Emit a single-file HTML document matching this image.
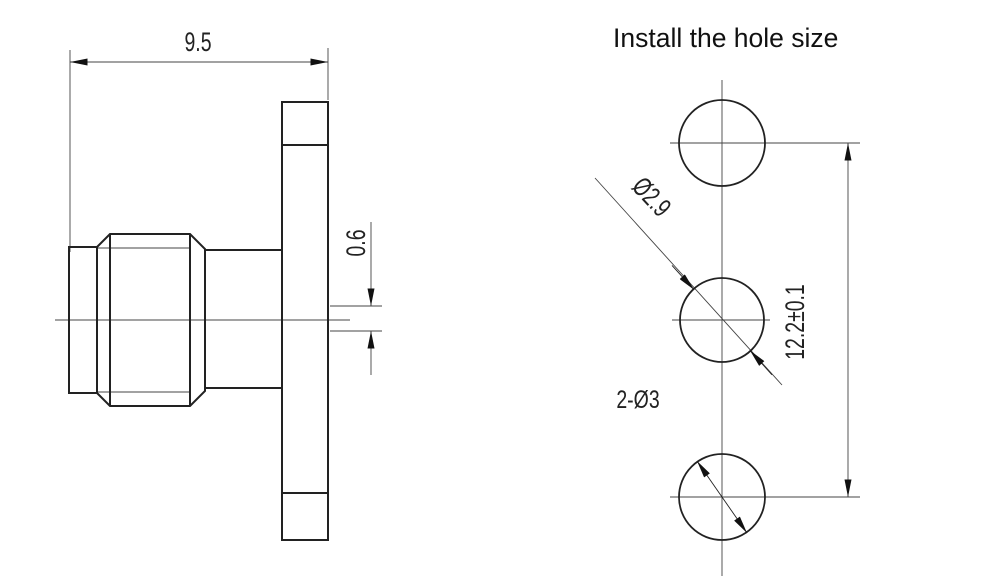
<!DOCTYPE html>
<html><head><meta charset="utf-8"><style>
body{margin:0;background:#fff;width:1000px;height:586px;overflow:hidden}
svg{display:block}
.t{font-family:"Liberation Sans",sans-serif;fill:#222}
</style></head><body>
<svg width="1000" height="586" viewBox="0 0 1000 586">
<defs>
<marker id="a" viewBox="0 0 10 4" refX="10" refY="2" markerWidth="18" markerHeight="7" markerUnits="userSpaceOnUse" orient="auto-start-reverse"><path d="M0,0L10,2L0,4z" fill="#111"/></marker>
</defs>
<g stroke="#222" fill="none">
<g stroke-width="0.9" stroke="#444">
<line x1="70" y1="50" x2="70" y2="252"/>
<line x1="328" y1="48" x2="328" y2="100"/>
<line x1="70" y1="62" x2="328" y2="62" marker-start="url(#a)" marker-end="url(#a)"/>
<line x1="55" y1="320" x2="350" y2="320"/>
<line x1="330" y1="306" x2="382" y2="306"/>
<line x1="330" y1="331" x2="382" y2="331"/>
<line x1="371" y1="222" x2="371" y2="306" marker-end="url(#a)"/>
<line x1="371" y1="375" x2="371" y2="331" marker-end="url(#a)"/>
<line x1="97" y1="248" x2="190" y2="248"/>
<line x1="97" y1="392" x2="190" y2="392"/>
</g>
<g stroke-width="2">
<rect x="282" y="102" width="46" height="438"/>
<line x1="282" y1="145" x2="328" y2="145"/>
<line x1="282" y1="493" x2="328" y2="493"/>
<rect x="69" y="247" width="28" height="146"/>
<path d="M97,247 L110,234 L190,234 L205,249 L205,391 L190,406 L110,406 L97,393"/>
<line x1="110" y1="234" x2="110" y2="406"/>
<line x1="190" y1="234" x2="190" y2="406"/>
<path d="M205,250 L282,250 M205,388 L282,388"/>
</g>
<g stroke-width="0.9" stroke="#444">
<line x1="722" y1="80" x2="722" y2="576"/>
<line x1="670" y1="143" x2="860" y2="143"/>
<line x1="672" y1="320" x2="770" y2="320"/>
<line x1="670" y1="497" x2="860" y2="497"/>
<line x1="848" y1="143" x2="848" y2="497" marker-start="url(#a)" marker-end="url(#a)"/>
<line x1="595" y1="178" x2="782" y2="385"/>
</g>
<g stroke-width="1.8">
<circle cx="722" cy="143" r="43"/>
<circle cx="722" cy="320" r="42"/>
<circle cx="722" cy="497" r="43"/>
</g>
<g stroke-width="0.9">
<line x1="672" y1="265.4" x2="694" y2="289.7" marker-end="url(#a)"/>
<line x1="772" y1="374.8" x2="750" y2="350.5" marker-end="url(#a)"/>
<line x1="697" y1="461" x2="747" y2="533" marker-start="url(#a)" marker-end="url(#a)"/>
</g>
</g>
<text class="t" font-size="27" text-anchor="middle" transform="translate(198,51) scale(0.72,1)">9.5</text>
<text class="t" font-size="27" text-anchor="middle" transform="translate(365,243) rotate(-90) scale(0.72,1)">0.6</text>
<text class="t" font-size="27" text-anchor="middle" transform="translate(804,322) rotate(-90) scale(0.72,1)">12.2±0.1</text>
<text class="t" font-size="27" text-anchor="middle" transform="translate(645,203) rotate(47) scale(0.72,1)">Ø2.9</text>
<text class="t" font-size="25" text-anchor="middle" transform="translate(638,408) scale(0.78,1)">2-Ø3</text>
<text x="613" y="47" font-size="26.5" font-family="'Liberation Sans',sans-serif" fill="#111">Install the hole size</text>
</svg>
</body></html>
